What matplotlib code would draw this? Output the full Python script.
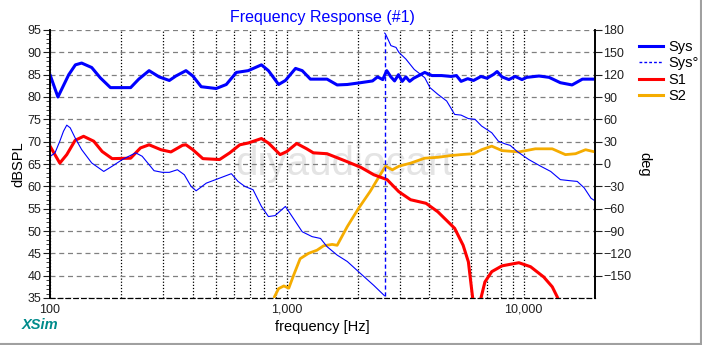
import numpy as np
import matplotlib
matplotlib.use('Agg')
import matplotlib.pyplot as plt
from matplotlib.lines import Line2D
from matplotlib.ticker import FixedLocator, NullFormatter

# System SPL (dB)
sys_f = [100, 108, 120, 128, 136, 150, 163, 180, 219, 237, 262, 289, 319, 340, 375, 401,
         435, 503, 555, 612, 687, 781, 836, 923, 986, 1088, 1161, 1257, 1387, 1478, 1631,
         1800, 2045, 2300, 2415, 2540, 2640, 2750, 2850, 2960, 3070, 3180, 3300, 3430, 3820,
         4100, 4500, 4940, 5200, 5440, 5800, 6140, 6600, 7000, 7480, 7720, 8100, 8660, 9200,
         9830, 10300, 11600, 12800, 14280, 16000, 17700, 20000]
sys_db = [85, 80, 85, 87.2, 87.6, 86.6, 84.3, 82.1, 82.1, 84, 85.9, 84.5, 83.7, 84.7, 85.9, 84.7,
          82.3, 81.9, 82.8, 85.5, 85.9, 87.2, 85.9, 82.8, 83.7, 86.4, 85.9, 84, 84, 84, 82.7,
          82.8, 83.2, 83.6, 84.5, 83.9, 85.9, 84.5, 83.6, 85, 83.5, 84.5, 83.5, 84.2, 85.5,
          84.8, 84.8, 84.6, 84.8, 83.5, 84.1, 83.7, 84.6, 84.2, 85.1, 85.7, 84.5, 83.9, 84.6,
          83.9, 84.4, 84.7, 84.4, 83.2, 82.7, 84, 84]

# Driver 1 (woofer) SPL, two lobes
s1_f = [100, 110, 117.7, 127.7, 138.6, 153, 166, 183, 219, 241, 262, 294, 324, 363, 375, 401,
        442, 520, 574, 633, 687, 781, 836, 937, 1000, 1100, 1213, 1294, 1478, 1743, 2045,
        2327, 2650, 2970, 3330, 3870, 4340, 5110, 5550, 5840, 6070, 6150]
s1_db = [69, 65.2, 67.1, 70.3, 71.2, 70.1, 67.8, 66.2, 66.3, 68.6, 69.3, 68.2, 67.7, 69.2, 69.3, 68.2,
         66.2, 66, 67.5, 69.3, 69.7, 70.7, 69.7, 67.1, 67.8, 69.6, 68.4, 67.5, 67.3, 65.8, 64.3,
         62.6, 61.5, 58.8, 57, 56.2, 54.3, 50.6, 46.8, 43.1, 35.6, 33]
s1b_f = [6500, 6600, 6860, 7330, 8100, 9540, 10690, 12150, 13200, 13870, 14100]
s1b_db = [33, 35, 38.6, 40.9, 42.2, 42.9, 42, 39.7, 37.5, 35.2, 34]

# Driver 2 (tweeter) SPL
s2_f = [885, 923, 971, 1019, 1068, 1138, 1235, 1340, 1430, 1554, 1631, 1800, 2010, 2250, 2440,
        2610, 2790, 2970, 3330, 3820, 4340, 4940, 5440, 6140, 6640, 7330, 8100, 9540, 11200,
        13200, 15000, 16550, 18250, 20000]
s2_db = [35.2, 37.1, 37.7, 37.2, 40.1, 43.8, 45, 45.7, 46.7, 47, 46.8, 51, 55.1, 58.9, 62,
         64.5, 63.7, 64.5, 65.2, 66.3, 66.5, 66.9, 67.1, 67.3, 68.2, 69, 68, 67.7, 68.4,
         68.4, 67.1, 67.3, 68.2, 67.7]

# System phase (deg), wraps at ~2.6 kHz
ph_f = [100, 105, 110, 114, 117.7, 121.7, 127.7, 136, 150, 168.6, 183, 202, 230, 245, 275, 298,
        319, 345, 369, 394, 414, 457, 520, 583, 622, 664, 720, 781, 836, 892, 986, 1053, 1161,
        1279, 1387, 1478, 1631, 1800, 2045, 2327, 2585]
ph_deg = [10, 15, 30.6, 44, 52.2, 48.6, 35, 19.4, 1.4, -10, -3, 6, 15, 10.4, -9, -11.2,
          -11.2, -7.7, -14.4, -30, -36, -25.7, -19, -13, -23.4, -30, -34.6, -57, -70.6, -69.3,
          -57, -70.6, -91, -97.6, -100, -111, -122.4, -131, -147, -163, -177]
ph2_f = [2585, 2610, 2750, 2890, 2970, 3180, 3450, 3820, 4020, 4340, 4730, 5110, 5440, 5840,
         6230, 6640, 7330, 7820, 8350, 8770, 9370, 10500, 11800, 13000, 14280, 15750, 16830,
         18000, 19240, 20000]
ph2_deg = [176, 174.6, 159, 156.6, 150, 141, 127, 116, 102.6, 93.6, 84.6, 66.6, 65.7, 61,
           60, 51, 42, 30.6, 27, 25, 17, 6, -3, -10, -21, -22.5, -23.4, -32, -46, -49.5]

blue = '#0000ff'
red = '#ff0000'
orange = '#f5ac00'
tick_col = '#202020'

plt.rcParams['font.family'] = ['Liberation Sans', 'DejaVu Sans']

fig = plt.figure(figsize=(7.02, 3.45), dpi=100)
ax = fig.add_axes([50 / 702, 1 - 298 / 345, 545 / 702, 268 / 345])
ax2 = ax.twinx()

# faint watermark
ax.text(0.54, 0.5, 'diyaudiocart', transform=ax.transAxes, fontsize=29, color='#e4e4e4',
        ha='center', va='center', zorder=0)

ax.set_xscale('log')
ax.set_xlim(100, 20000)
ax.set_ylim(35, 95)
ax2.set_ylim(-180, 180)

ax.xaxis.set_major_locator(FixedLocator([100, 1000, 10000]))
ax.set_xticklabels(['100', '1,000', '10,000'])
ax.xaxis.set_minor_locator(FixedLocator([200, 300, 400, 500, 600, 700, 800, 900,
                                         2000, 3000, 4000, 5000, 6000, 7000, 8000, 9000]))
ax.xaxis.set_minor_formatter(NullFormatter())
ax.tick_params(axis='x', which='both', length=0, labelsize=9, colors=tick_col, pad=4)

ax.set_yticks(np.arange(35, 96, 5))
ax.set_yticks(np.arange(35, 96, 1), minor=True)
ax.tick_params(axis='y', which='major', length=5, labelsize=9, colors=tick_col, pad=1)
ax.tick_params(axis='y', which='minor', length=3, color=tick_col)

ax2.set_yticks(np.arange(-150, 181, 30))
ax2.tick_params(axis='y', length=5, labelsize=9, colors=tick_col, pad=1)

# grid
ax.grid(True, axis='y', which='major', linestyle=(0, (4, 3)), color='#808080', lw=0.9)
ax.grid(True, axis='x', which='both', linestyle=(0, (1, 1.5)), color='#000000', lw=0.9)

for a in (ax, ax2):
    a.spines['top'].set_visible(False)
    a.spines['bottom'].set_linestyle((0, (4, 3)))
    a.spines['bottom'].set_color('#000000')
    a.spines['left'].set_linewidth(1.2)
    a.spines['right'].set_linewidth(1.2)

kw = dict(solid_joinstyle='round', solid_capstyle='round')
ax.plot(sys_f, sys_db, color=blue, lw=2.2, zorder=5, **kw)
ax.plot(s1_f, s1_db, color=red, lw=2.2, zorder=4, **kw)
ax.plot(s1b_f, s1b_db, color=red, lw=2.2, zorder=4, **kw)
ax.plot(s2_f, s2_db, color=orange, lw=2.0, zorder=3, **kw)

ax2.plot(ph_f, ph_deg, color=blue, lw=0.8, **kw)
ax2.plot(ph2_f, ph2_deg, color=blue, lw=0.8, **kw)
ax2.plot([ph_f[-1], ph2_f[0]], [ph_deg[-1], ph2_deg[0]], color=blue, lw=1.0,
         linestyle=(0, (3, 2)))

ax.set_ylabel('dBSPL', fontsize=10.5, labelpad=2)
ax2.set_ylabel('deg', fontsize=10.5, rotation=270, labelpad=14)
ax.set_xlabel('frequency [Hz]', fontsize=10.5, labelpad=3)
ax.set_title('Frequency Response (#1)', color=blue, fontsize=11.5, pad=6)

handles = [Line2D([], [], color=blue, lw=2.2),
           Line2D([], [], color=blue, lw=1.0, linestyle=(0, (2, 1.5))),
           Line2D([], [], color=red, lw=2.2),
           Line2D([], [], color=orange, lw=2.2)]
fig.legend(handles, ['Sys', 'Sys°', 'S1', 'S2'], loc='upper left',
           bbox_to_anchor=(632 / 702, 1 - 33 / 345), frameon=False, fontsize=10.5,
           handlelength=1.6, handletextpad=0.4, labelspacing=0.15, borderpad=0)

fig.text(22 / 702, 1 - 325 / 345, 'XSim', color='#008b8b', fontsize=10.5,
         fontweight='bold', fontstyle='italic', va='center')

fig.add_artist(Line2D([0, 1], [1.5 / 345, 1.5 / 345], color='#a0a0a0', lw=1.5))
fig.add_artist(Line2D([700.5 / 702, 700.5 / 702], [0, 1], color='#a0a0a0', lw=1.5))

fig.savefig('out.png', dpi=100)
